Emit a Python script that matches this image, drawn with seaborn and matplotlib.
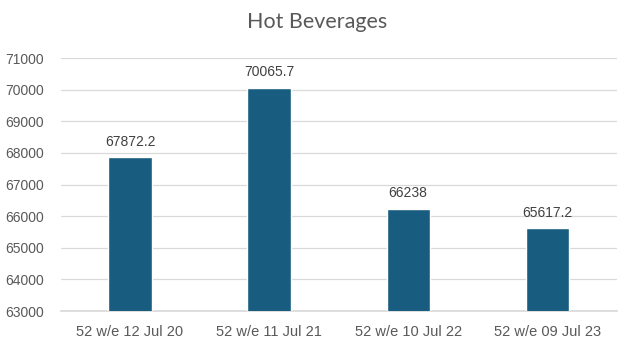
import matplotlib
matplotlib.use("Agg")
import matplotlib.pyplot as plt
import seaborn as sns
import pandas as pd

categories = ["52 w/e 12 Jul 20", "52 w/e 11 Jul 21", "52 w/e 10 Jul 22", "52 w/e 09 Jul 23"]
values = [67872.2, 70065.7, 66238, 65617.2]
value_labels = ["67872.2", "70065.7", "66238", "65617.2"]
y_ticks = [63000, 64000, 65000, 66000, 67000, 68000, 69000, 70000, 71000]

sns.set_theme(style="white")
plt.rcParams["font.family"] = ["Liberation Sans", "DejaVu Sans"]

df = pd.DataFrame({"period": categories, "value": values})

fig = plt.figure(figsize=(6.22, 3.46), dpi=100)
ax = fig.add_axes([0.0973, 0.101, 0.894, 0.731])

bar_color = "#185d80"
sns.barplot(data=df, x="period", y="value", color=bar_color, width=0.31,
            saturation=1, ax=ax, zorder=3)

ax.set_ylim(63000, 71000)
ax.set_xlim(-0.5, 3.5)
ax.set_yticks(y_ticks)
ax.set_yticklabels([str(t) for t in y_ticks])
ax.yaxis.grid(True, color="#d9d9d9", linewidth=0.9, zorder=0)
ax.set_axisbelow(True)
for s in ax.spines.values():
    s.set_visible(False)
ax.spines["bottom"].set_visible(True)
ax.spines["bottom"].set_color("#d9d9d9")
ax.tick_params(axis="both", length=0, colors="#595959", labelsize=10)
ax.tick_params(axis="x", pad=10)
ax.tick_params(axis="y", pad=12)
for lbl in ax.get_xticklabels():
    lbl.set_family(["Liberation Sans Narrow", "Liberation Sans", "DejaVu Sans"])
    lbl.set_fontsize(10.5)
ax.set_xlabel("")
ax.set_ylabel("")

for i, (v, t) in enumerate(zip(values, value_labels)):
    ax.annotate(t, (i, v), xytext=(0, 6), textcoords="offset points",
                ha="center", va="bottom", fontsize=10, color="#404040")

fig.text(0.51, 0.935, "Hot Beverages", ha="center", va="center",
         fontsize=15.5, color="#595959", family=["Lato", "DejaVu Sans"])

fig.savefig("out.png", dpi=100)
